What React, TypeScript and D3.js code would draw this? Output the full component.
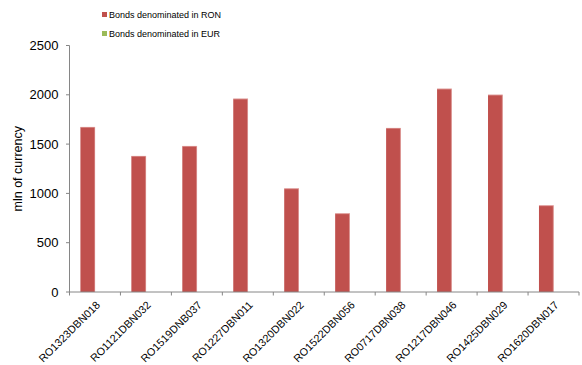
import React from "react";
import * as d3 from "d3";

const categories = [
  "RO1323DBN018",
  "RO1121DBN032",
  "RO1519DNB037",
  "RO1227DBN011",
  "RO1320DBN022",
  "RO1522DBN056",
  "RO0717DBN038",
  "RO1217DBN046",
  "RO1425DBN029",
  "RO1620DBN017",
];
const ronValues = [1673, 1379, 1480, 1960, 1050, 797, 1663, 2061, 2000, 878];
const eurValues = [0, 0, 0, 0, 0, 0, 0, 0, 0, 0];
const seriesNames = ["Bonds denominated in RON", "Bonds denominated in EUR"];
const yTicks = [0, 500, 1000, 1500, 2000, 2500];

const W = 582;
const H = 365;
const margin = { left: 69.5, right: 3, top: 45.5, bottom: 73 };
const colors = ["#C0504D", "#9BBB59"];
const axisColor = "#868686";
const font = "'Liberation Sans', Arial, sans-serif";

export default function App() {
  const x = d3
    .scaleBand<string>()
    .domain(categories)
    .range([margin.left, W - margin.right]);
  const y = d3
    .scaleLinear()
    .domain([0, 2500])
    .range([H - margin.bottom, margin.top]);
  const bw = x.bandwidth();
  const barW = bw / 3.5;
  const inner = d3
    .scaleBand<number>()
    .domain([0, 1])
    .range([barW * 0.75, bw - barW * 0.75]);
  const series = [ronValues, eurValues];
  const y0 = y(0);

  return (
    <svg
      width={W}
      height={H}
      style={{ position: "absolute", left: 0, top: 0, background: "#fff" }}
      fontFamily={font}
    >
      {/* legend */}
      {seriesNames.map((name, i) => (
        <g key={name} transform={`translate(102, ${12 + i * 19})`}>
          <rect x={0} y={0} width={5} height={5} fill={colors[i]} />
          <text x={7} y={5.5} fontSize={9} fill="#000">
            {name}
          </text>
        </g>
      ))}

      {/* bars */}
      {series.map((vals, si) =>
        vals.map((v, ci) => {
          if (v <= 0) return null;
          const bx = (x(categories[ci]) as number) + (inner(si) as number);
          const by = y(v);
          return (
            <g key={`${si}-${ci}`}>
              <rect x={bx} y={by} width={barW} height={y0 - by} fill={colors[si]} />
              <line x1={bx} x2={bx + barW} y1={by + 0.25} y2={by + 0.25} stroke="#e9b3b1" strokeWidth={0.6} />
              <line x1={bx + barW - 0.25} x2={bx + barW - 0.25} y1={by} y2={y0} stroke="#e2a3a1" strokeWidth={0.6} />
            </g>
          );
        })
      )}

      {/* y axis */}
      <line x1={margin.left} x2={margin.left} y1={margin.top} y2={y0} stroke={axisColor} strokeWidth={1} />
      {yTicks.map((t) => (
        <g key={t}>
          <line x1={margin.left - 3.5} x2={margin.left} y1={y(t)} y2={y(t)} stroke={axisColor} strokeWidth={1} />
          <text x={58.5} y={y(t)} dy="0.36em" textAnchor="end" fontSize={13} fill="#000">
            {t}
          </text>
        </g>
      ))}
      <text
        transform={`translate(22, ${(margin.top + y0) / 2}) rotate(-90)`}
        textAnchor="middle"
        fontSize={12.5}
        fill="#000"
      >
        mln of currency
      </text>

      {/* x axis */}
      <line x1={margin.left} x2={W - margin.right} y1={y0} y2={y0} stroke={axisColor} strokeWidth={1} />
      {categories.map((c, i) => (
        <line
          key={`t${i}`}
          x1={x(c) as number}
          x2={x(c) as number}
          y1={y0}
          y2={y0 + 3.5}
          stroke={axisColor}
          strokeWidth={1}
        />
      ))}
      <line x1={W - margin.right} x2={W - margin.right} y1={y0} y2={y0 + 3.5} stroke={axisColor} />
      {categories.map((c) => {
        const cx = (x(c) as number) + bw / 2 + 3;
        const cy = y0 + 11;
        return (
          <text
            key={c}
            transform={`translate(${cx}, ${cy}) rotate(-45)`}
            textAnchor="end"
            dy="0.35em"
            fontSize={10.8}
            fill="#000"
          >
            {c}
          </text>
        );
      })}
    </svg>
  );
}
